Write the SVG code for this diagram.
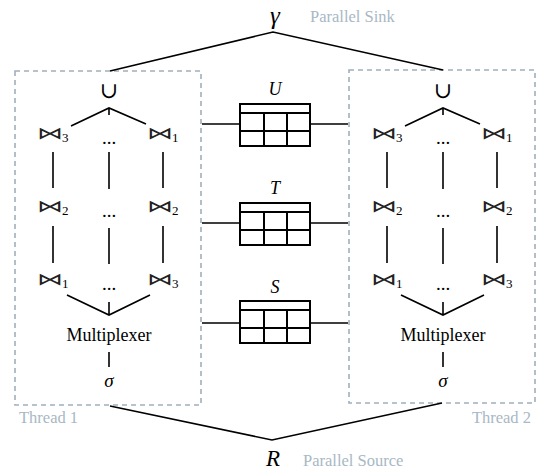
<svg xmlns="http://www.w3.org/2000/svg" width="539" height="470" viewBox="0 0 539 470">
<style>
.ln{stroke:#000;stroke-width:1.6;fill:none}
.tb{stroke:#000;stroke-width:2;fill:#fff}
.tbl{stroke:#000;stroke-width:2;fill:none}
.box{stroke:#9fb0bd;stroke-width:1.6;fill:none;stroke-dasharray:5 4}
.note{font-family:"Liberation Serif",serif;font-size:16.5px;fill:#a8b8c4}
.math{font-family:"Liberation Serif","DejaVu Serif",serif;font-style:italic;fill:#000}
.txt{font-family:"Liberation Serif","DejaVu Serif",serif;fill:#000}
.join{font-family:"DejaVu Sans","DejaVu Serif",sans-serif;font-size:20px;fill:#222}
.sub{font-family:"Liberation Serif",serif;font-size:13px;fill:#000}
.dots{font-family:"Liberation Serif",serif;font-size:19px;text-anchor:middle}
.mid{text-anchor:middle}
</style>
<defs>
<g id="table">
<rect class="tb" x="0" y="0" width="70" height="42"/>
<path class="tbl" d="M0 9H70M0 27H70M24 9V42M47 9V42"/>
</g>
<g id="panel">
<text class="txt mid" x="109" y="98" font-family="DejaVu Sans" font-size="22">∪</text>
<text class="join" transform="translate(37,139) scale(1.3,0.85)">⋈</text>
<text class="sub" x="62" y="142">3</text>
<text class="join" transform="translate(147,139) scale(1.3,0.85)">⋈</text>
<text class="sub" x="172" y="142">1</text>
<text class="dots" x="109" y="144">...</text>
<text class="join" transform="translate(37,212) scale(1.3,0.85)">⋈</text>
<text class="sub" x="62" y="215">2</text>
<text class="join" transform="translate(147,212) scale(1.3,0.85)">⋈</text>
<text class="sub" x="172" y="215">2</text>
<text class="dots" x="109" y="217">...</text>
<text class="join" transform="translate(37,285) scale(1.3,0.85)">⋈</text>
<text class="sub" x="62" y="288">1</text>
<text class="join" transform="translate(147,285) scale(1.3,0.85)">⋈</text>
<text class="sub" x="172" y="288">3</text>
<text class="dots" x="109" y="290">...</text>
<path class="ln" d="M71 126L109 108L146 124M109 108V115"/>
<path class="ln" d="M53 152V188M109 152V189M163 152V188"/>
<path class="ln" d="M53 226V263M109 228V264M163 226V263"/>
<path class="ln" d="M67 295L109 315L150 295M109 302V315"/>
<text class="txt mid" x="109" y="341" font-size="18">Multiplexer</text>
<path class="ln" d="M109 352V367" stroke-width="2"/>
<text class="math mid" x="109" y="387" font-size="19">σ</text>
</g>
</defs>
<g id="thread1">
<rect class="box" x="15" y="71" width="186" height="334"/>
<text class="note" x="19" y="423">Thread 1</text>
<use href="#panel"/>
</g>
<g id="thread2">
<rect class="box" x="349" y="70" width="186" height="333"/>
<text class="note" x="531" y="423" text-anchor="end">Thread 2</text>
<use href="#panel" transform="translate(334,0)"/>
</g>
<g id="sink">
<text class="math mid" x="275" y="24" font-size="25">γ</text>
<text class="note" x="310" y="22">Parallel Sink</text>
</g>
<g id="source">
<text class="math mid" x="273" y="466" font-size="23">R</text>
<text class="note" x="303" y="466">Parallel Source</text>
</g>
<g id="U">
<text class="math mid" x="275" y="95" font-size="18">U</text>
<use href="#table" x="240" y="104"/>
</g>
<g id="T">
<text class="math mid" x="275" y="194" font-size="18">T</text>
<use href="#table" x="240" y="203"/>
</g>
<g id="S">
<text class="math mid" x="275" y="293" font-size="18">S</text>
<use href="#table" x="240" y="301"/>
</g>
<g id="connectors">
<path class="ln" d="M110 71L273 32L443 70"/>
<path class="ln" d="M110 406L272 440L442 403"/>
<path class="ln" d="M202 124H240M310 124H348"/>
<path class="ln" d="M202 223H240M310 223H348"/>
<path class="ln" d="M202 323H240M310 323H348"/>
</g>
</svg>
